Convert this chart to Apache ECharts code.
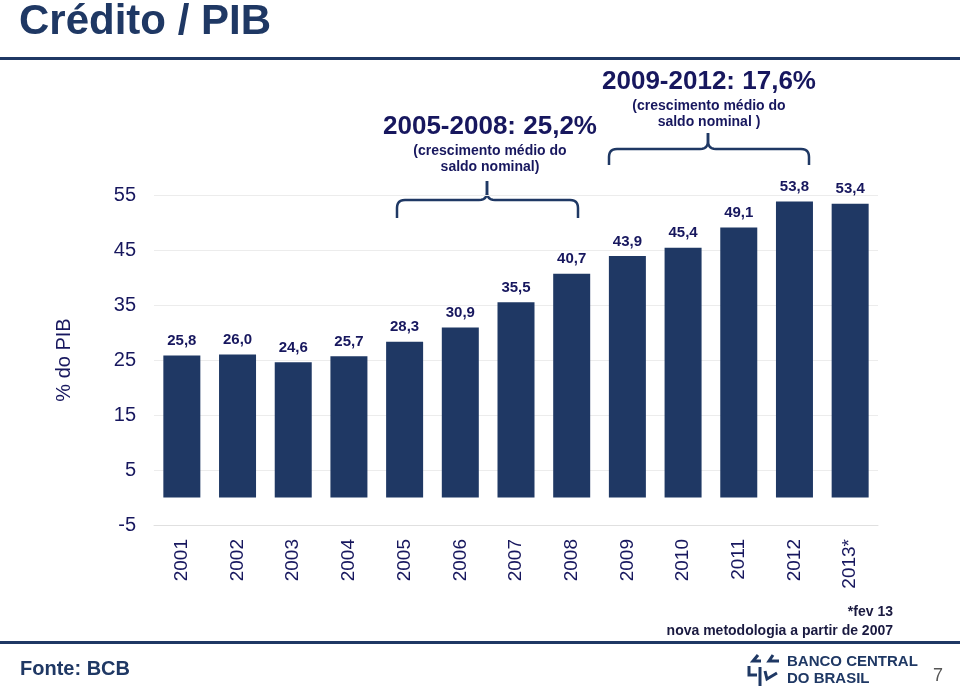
<!DOCTYPE html>
<html>
<head>
<meta charset="utf-8">
<script src="https://cdn.jsdelivr.net/npm/echarts@6/dist/echarts.min.js"></script>
<style>
html,body{margin:0;padding:0;background:#fff;}
#chart{width:960px;height:692px;}
</style>
</head>
<body>
<div id="chart"></div>
<script>
// Data
var categories = ['2001','2002','2003','2004','2005','2006','2007','2008','2009','2010','2011','2012','2013*'];
var creditoPib = [25.8, 26.0, 24.6, 25.7, 28.3, 30.9, 35.5, 40.7, 43.9, 45.4, 49.1, 53.8, 53.4];
var yTicks = [-5, 5, 15, 25, 35, 45, 55];

var NAVY = '#1f3864';
var TXT = '#17175e';
var FONT = '"Liberation Sans", Arial, sans-serif';

var chart = echarts.init(document.getElementById('chart'), null, {renderer: 'canvas'});

// rounded corner via quadratic points
function quad(p0, c, p1, n) {
  var pts = [];
  for (var i = 0; i <= n; i++) {
    var t = i / n, u = 1 - t;
    pts.push([u * u * p0[0] + 2 * u * t * c[0] + t * t * p1[0], u * u * p0[1] + 2 * u * t * c[1] + t * t * p1[1]]);
  }
  return pts;
}
function bracket(x1, x2, xm, yBottom, yLine, yTop) {
  var r = 8, n = 6;
  var left = [[x1, yBottom]].concat(
    quad([x1, yLine + r], [x1, yLine], [x1 + r, yLine], n),
    quad([xm - r, yLine], [xm, yLine], [xm, yLine - r], n),
    [[xm, yTop]]
  );
  var right = [[xm, yTop]].concat(
    quad([xm, yLine - r], [xm, yLine], [xm + r, yLine], n),
    quad([x2 - r, yLine], [x2, yLine], [x2, yLine + r], n),
    [[x2, yBottom]]
  );
  return [
    {type: 'polyline', shape: {points: left}, style: {fill: null, stroke: NAVY, lineWidth: 2.5}},
    {type: 'polyline', shape: {points: right}, style: {fill: null, stroke: NAVY, lineWidth: 2.5}}
  ];
}
function pl(points, w) {
  return {type: 'polyline', shape: {points: points}, style: {fill: null, stroke: NAVY, lineWidth: w || 3}};
}

var graphics = [
  // title
  {type: 'text', x: 19, y: 22, style: {text: 'Crédito / PIB', fill: NAVY, font: 'bold 42px ' + FONT, textVerticalAlign: 'middle'}},
  {type: 'rect', shape: {x: 0, y: 57, width: 960, height: 3}, style: {fill: NAVY}},
  {type: 'rect', shape: {x: 0, y: 641, width: 960, height: 3}, style: {fill: NAVY}},
  // annotations
  {type: 'text', x: 490, y: 127, style: {text: '2005-2008: 25,2%', fill: TXT, font: 'bold 26px ' + FONT, textAlign: 'center', textVerticalAlign: 'middle'}},
  {type: 'text', x: 490, y: 151, style: {text: '(crescimento médio do', fill: TXT, font: 'bold 14px ' + FONT, textAlign: 'center', textVerticalAlign: 'middle'}},
  {type: 'text', x: 490, y: 167, style: {text: 'saldo nominal)', fill: TXT, font: 'bold 14px ' + FONT, textAlign: 'center', textVerticalAlign: 'middle'}},
  {type: 'text', x: 709, y: 82, style: {text: '2009-2012: 17,6%', fill: TXT, font: 'bold 26px ' + FONT, textAlign: 'center', textVerticalAlign: 'middle'}},
  {type: 'text', x: 709, y: 106, style: {text: '(crescimento médio do', fill: TXT, font: 'bold 14px ' + FONT, textAlign: 'center', textVerticalAlign: 'middle'}},
  {type: 'text', x: 709, y: 122, style: {text: 'saldo nominal )', fill: TXT, font: 'bold 14px ' + FONT, textAlign: 'center', textVerticalAlign: 'middle'}},
  // notes
  {type: 'text', x: 893, y: 612, style: {text: '*fev 13', fill: '#1a1a40', font: 'bold 14px ' + FONT, textAlign: 'right', textVerticalAlign: 'middle'}},
  {type: 'text', x: 893, y: 631, style: {text: 'nova metodologia a partir de 2007', fill: '#1a1a40', font: 'bold 14px ' + FONT, textAlign: 'right', textVerticalAlign: 'middle'}},
  {type: 'text', x: 20, y: 669, style: {text: 'Fonte: BCB', fill: NAVY, font: 'bold 20px ' + FONT, textVerticalAlign: 'middle'}},
  // logo
  {type: 'text', x: 787, y: 662, style: {text: 'BANCO CENTRAL', fill: NAVY, font: 'bold 15px ' + FONT, textVerticalAlign: 'middle'}},
  {type: 'text', x: 787, y: 679, style: {text: 'DO BRASIL', fill: NAVY, font: 'bold 15px ' + FONT, textVerticalAlign: 'middle'}},
  pl([[758, 655], [753, 661], [761, 661]]),
  pl([[773, 655], [769, 661], [779, 661]]),
  pl([[749, 666], [749, 675], [757, 675]]),
  pl([[760, 667], [760, 686]]),
  pl([[765, 671], [767, 679], [777, 673]]),
  {type: 'text', x: 938, y: 676, style: {text: '7', fill: '#555555', font: '18px ' + FONT, textAlign: 'center', textVerticalAlign: 'middle'}}
].concat(bracket(397, 578, 487, 218, 200, 181), bracket(609, 809, 708, 165, 149, 133));

var option = {
  animation: false,
  backgroundColor: '#ffffff',
  grid: {left: 154, right: 82, top: 195, bottom: 167, containLabel: false},
  xAxis: {
    type: 'category',
    data: categories,
    axisLine: {show: true, onZero: false, lineStyle: {color: '#e0e0e0', width: 1}},
    axisTick: {show: false},
    axisLabel: {rotate: 90, margin: 14, color: TXT, fontSize: 19, fontFamily: FONT, interval: 0},
    splitLine: {show: false}
  },
  yAxis: {
    type: 'value',
    min: -5, max: 55, interval: 10,
    name: '% do PIB',
    nameLocation: 'middle',
    nameGap: 80,
    nameRotate: 90,
    nameTextStyle: {color: TXT, fontSize: 20, fontFamily: FONT},
    axisLine: {show: false},
    axisTick: {show: false},
    axisLabel: {
      margin: 18, color: TXT, fontSize: 20, fontFamily: FONT,
      formatter: function (v) { return yTicks.indexOf(v) >= 0 ? String(v) : ''; }
    },
    splitLine: {show: true, lineStyle: {color: '#ececec', width: 1}}
  },
  series: [{
    type: 'bar',
    data: creditoPib,
    barWidth: 37,
    itemStyle: {color: NAVY},
    label: {
      show: true,
      position: 'top',
      distance: 7,
      color: TXT,
      fontSize: 15,
      fontWeight: 'bold',
      fontFamily: FONT,
      formatter: function (p) { return p.value.toFixed(1).replace('.', ','); }
    }
  }],
  graphic: graphics
};
chart.setOption(option);
</script>
</body>
</html>
